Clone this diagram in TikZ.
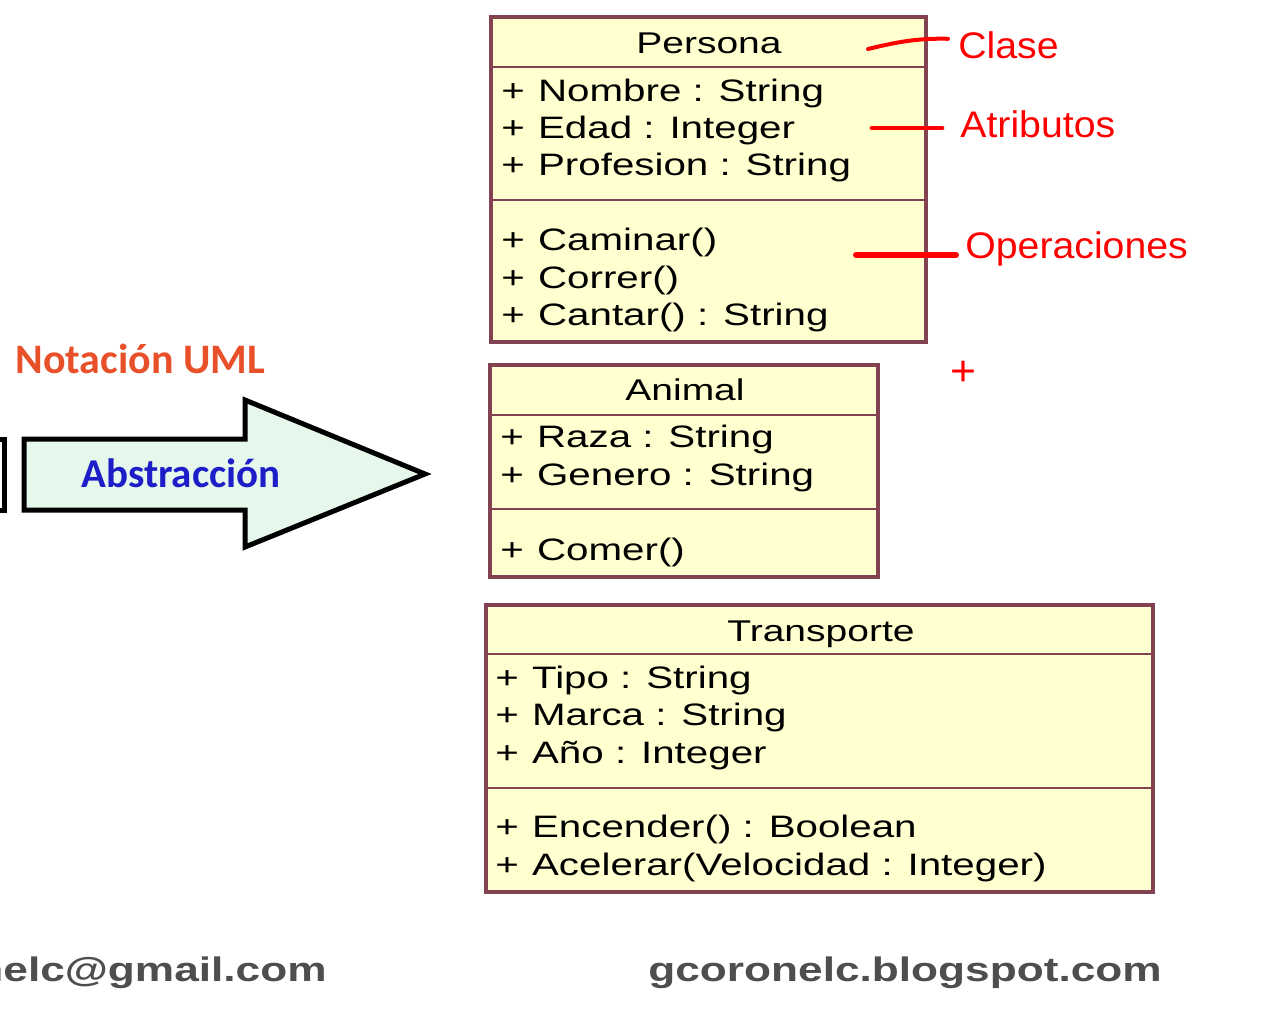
\documentclass[tikz,border=0pt]{standalone}
\usepackage{fontspec}
\usepackage{tikz}
\usetikzlibrary{positioning}

\newfontfamily\umlfont[FakeStretch=1.3]{Liberation Sans}
\newfontfamily\notefont[FakeStretch=1.06]{Liberation Sans}
\newfontfamily\titlefont{Carlito}
\newfontfamily\webfont[FakeStretch=1.3]{Liberation Sans}

\definecolor{classline}{RGB}{130,66,82}
\definecolor{classfill}{RGB}{255,255,208}
\definecolor{arrowfill}{RGB}{230,248,236}
\definecolor{umlorange}{RGB}{232,80,42}
\definecolor{absblue}{RGB}{30,30,200}
\definecolor{webgray}{RGB}{78,78,78}

\tikzset{
  classbox/.style={draw=classline, fill=classfill, line width=1.6pt},
  divider/.style={draw=classline, line width=1.4pt},
  classname/.style={anchor=base, inner sep=0pt, font=\umlfont\fontsize{15}{15}\selectfont},
  member/.style={anchor=base west, inner sep=0pt, font=\umlfont\fontsize{15.5}{15.5}\selectfont},
  note/.style={anchor=base west, inner sep=0pt, text=red, font=\notefont\fontsize{18.5}{18.5}\selectfont},
  noteline/.style={draw=red, line cap=round},
  web/.style={inner sep=0pt, text=webgray, font=\webfont\bfseries\fontsize{17}{17}\selectfont},
}

\begin{document}
\begin{tikzpicture}[x=0.5pt, y=-0.5pt]
  \useasboundingbox[fill=white] (0,0) rectangle (1280,1024);

  % Persona
  \draw[classbox] (491,17) rectangle (926,342);
  \draw[divider] (491,67) -- (926,67) (491,200) -- (926,200);
  \node[classname] (persona) at (709,53) {Persona};
  \foreach \y/\txt [count=\i] in {101/Nombre : String, 138/Edad : Integer, 175/Profesion : String,
      250/Caminar(), 288/Correr(), 325/Cantar() : String}
    \node[member] (persona\i) at (501,\y) {+\hspace{1pt} \txt};

  % Animal
  \draw[classbox] (490,365) rectangle (878,577);
  \draw[divider] (490,415) -- (878,415) (490,509) -- (878,509);
  \node[classname] (animal) at (685,400) {Animal};
  \foreach \y/\txt [count=\i] in {447/Raza : String, 485/Genero : String, 560/Comer()}
    \node[member] (animal\i) at (500,\y) {+\hspace{1pt} \txt};

  % Transporte
  \draw[classbox] (486,605) rectangle (1153,892);
  \draw[divider] (486,654) -- (1153,654) (486,788) -- (1153,788);
  \node[classname] (transporte) at (821,641) {Transporte};
  \foreach \y/\txt [count=\i] in {688/Tipo : String, 725/Marca : String, 763/Año : Integer,
      837/Encender() : Boolean, 875/Acelerar(Velocidad : Integer)}
    \node[member] (transporte\i) at (495,\y) {+\hspace{1pt} \txt};

  % Notes
  \node[note] (clase) at (958,58) {Clase};
  \node[note] (atributos) at (960,137) {Atributos};
  \node[note] (operaciones) at (965,258) {Operaciones};
  \node[note, anchor=base, font=\notefont\fontsize{21}{21}\selectfont] (plus) at (963,385) {+};
  \coordinate (clasept) at (868,49);
  \coordinate (atribpt) at (872,128);
  \coordinate (operpt) at (856,255);
  \draw[noteline, line width=2pt] (clasept) .. controls (893,43) and (915,38) .. ([xshift=-5pt, yshift=3pt]clase.west);
  \draw[noteline, line width=2.4pt, shorten >=9pt] (atribpt) -- (atribpt -| atributos.west);
  \draw[noteline, line width=3pt, shorten >=4.5pt] (operpt) -- (operpt -| operaciones.west);

  % Abstraccion
  \node[anchor=base west, inner sep=0pt, text=umlorange, font=\titlefont\bfseries\fontsize{21}{21}\selectfont] (notacion) at (15,373) {Notación UML};
  \draw[line width=2.5pt, fill=white] (-30,439) rectangle (4,510);
  \draw[line width=2.5pt, fill=arrowfill, line join=miter] (24,439) -- (245,439) -- (245,400)
    -- (425,474) -- (245,547) -- (245,510) -- (24,510) -- cycle;
  \node[anchor=base, inner sep=0pt, text=absblue, font=\titlefont\bfseries\fontsize{20.5}{20.5}\selectfont] (abstraccion) at (181,487) {Abstracción};

  % Footer
  \node[web, anchor=base east] (mail) at (327,981) {nelc@gmail.com};
  \node[web, anchor=base west] (blog) at (648,981) {gcoronelc.blogspot.com};
\end{tikzpicture}
\end{document}
